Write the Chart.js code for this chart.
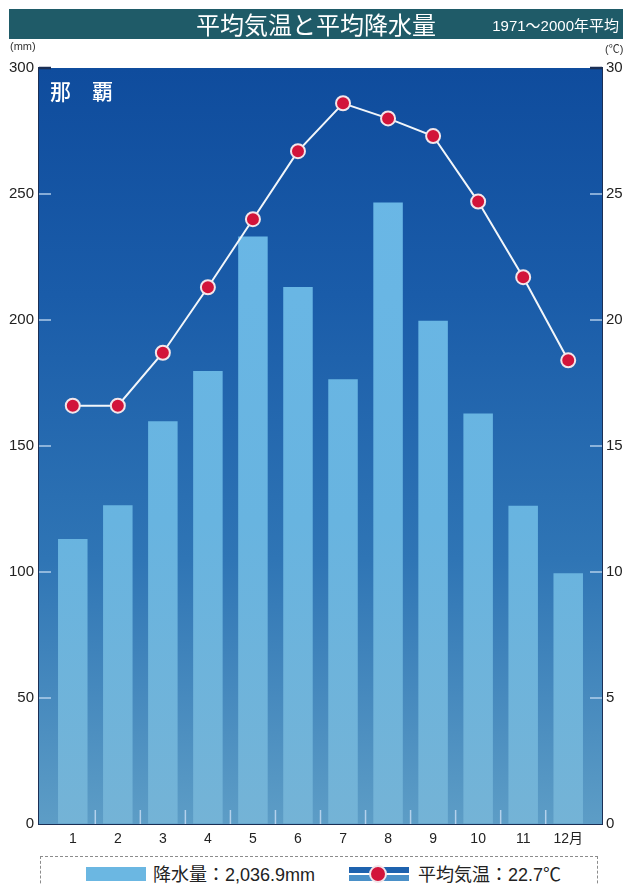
<!DOCTYPE html>
<html lang="ja">
<head>
<meta charset="utf-8">
<title>平均気温と平均降水量</title>
<script src="https://cdn.jsdelivr.net/npm/chart.js@4"></script>
<style>
  html, body { margin: 0; padding: 0; background: #fff; width: 626px; height: 885px; overflow: hidden;
    font-family: "Liberation Sans", "Noto Sans CJK JP", sans-serif; color: #222; }
  #titlebar { position: absolute; left: 9px; top: 9px; width: 614px; height: 30px; background: #1f5b68; color: #fff; }
  #titlebar .main { position: absolute; left: 0; top: 0; width: 100%; text-align: center; line-height: 30px;
    font-family: "Noto Sans CJK JP", sans-serif; font-size: 24px; }
  #titlebar .sub { position: absolute; right: 4px; top: 1px; line-height: 32px; font-size: 15px;
    font-family: "Liberation Sans", "Noto Sans CJK JP", sans-serif; }
  .unit { position: absolute; top: 40px; font-size: 11px; color: #333; }
  #chart { position: absolute; left: 0; top: 0; }
  #legend { position: absolute; left: 40px; top: 856px; width: 556px; height: 40px; border: 1px dashed #8c8c8c; }
  .lg-text { position: absolute; top: 7px; font-size: 18px; line-height: 22px; color: #222;
    font-family: "Liberation Sans", "Noto Sans CJK JP", sans-serif; }
  #sw-rain { position: absolute; left: 45px; top: 10px; width: 60px; height: 14px; background: #6bb7e2; }
  #sw-temp { position: absolute; left: 308px; top: 10px; width: 60px; height: 14px;
    background: linear-gradient(#1e62ae 0, #1e62ae 6px, #ffffff 6px, #ffffff 8px, #4a90c8 8px); }
  #sw-dot { position: absolute; left: 20px; top: -2px; width: 14px; height: 14px; border-radius: 50%;
    background: #d2143a; border: 2px solid #f3e6ea; }
</style>
</head>
<body>
<canvas id="chart" width="626" height="850"></canvas>
<div id="titlebar"><div class="main">平均気温と平均降水量</div><div class="sub">1971～2000年平均</div></div>
<div class="unit" style="left:10px">(mm)</div>
<div class="unit" style="left:605px">(℃)</div>
<div id="legend">
  <div id="sw-rain"></div>
  <div class="lg-text" style="left:112px">降水量：2,036.9mm</div>
  <div id="sw-temp"><div id="sw-dot"></div></div>
  <div class="lg-text" style="left:377px">平均気温：22.7℃</div>
</div>
<script>
// 那覇の月別平年値（1971～2000年）
const months = ['1', '2', '3', '4', '5', '6', '7', '8', '9', '10', '11', '12月'];
const precipitation = [113.1, 126.5, 159.8, 179.8, 233.1, 213.1, 176.5, 246.6, 199.7, 162.9, 126.3, 99.5]; // mm
const temperature = [16.6, 16.6, 18.7, 21.3, 24.0, 26.7, 28.6, 28.0, 27.3, 24.7, 21.7, 18.4]; // ℃
const stationName = '那　覇';

const NAVY = '#1b2f55';
const TICK = 'rgba(190,215,240,0.9)';

// plot background, station name and inner tick marks
const plotDecor = {
  id: 'plotDecor',
  beforeDatasetsDraw(chart) {
    const { ctx, chartArea: a, scales } = chart;
    ctx.save();
    const g = ctx.createLinearGradient(0, a.top, 0, a.bottom);
    g.addColorStop(0, '#0f4c9d');
    g.addColorStop(0.3, '#1a5ca9');
    g.addColorStop(0.65, '#2f75b5');
    g.addColorStop(1, '#5d9dc6');
    ctx.fillStyle = g;
    ctx.fillRect(a.left, a.top, a.right - a.left, a.bottom - a.top);

    // station name
    ctx.fillStyle = '#ffffff';
    ctx.font = '500 21px "Noto Sans CJK JP", sans-serif';
    ctx.textBaseline = 'middle';
    ctx.textAlign = 'left';
    ctx.fillText(stationName, a.left + 11, a.top + 23);

    // left axis ticks
    scales.y.ticks.forEach(t => {
      if (t.value === 0) return;
      const y = scales.y.getPixelForValue(t.value);
      const top = t.value === scales.y.max;
      ctx.strokeStyle = top ? NAVY : TICK;
      ctx.lineWidth = top ? 2.5 : 1.5;
      ctx.beginPath(); ctx.moveTo(a.left, y); ctx.lineTo(a.left + 12, y); ctx.stroke();
    });
    // right axis ticks
    scales.y1.ticks.forEach(t => {
      if (t.value === 0) return;
      const y = scales.y1.getPixelForValue(t.value);
      const top = t.value === scales.y1.max;
      ctx.strokeStyle = top ? NAVY : TICK;
      ctx.lineWidth = top ? 2.5 : 1.5;
      ctx.beginPath(); ctx.moveTo(a.right - 12, y); ctx.lineTo(a.right, y); ctx.stroke();
    });
    // month separators along the bottom
    ctx.strokeStyle = TICK;
    ctx.lineWidth = 1.5;
    for (let i = 1; i < months.length; i++) {
      const x = scales.x.getPixelForValue(i + 0.5);
      ctx.beginPath(); ctx.moveTo(x, a.bottom); ctx.lineTo(x, a.bottom - 14); ctx.stroke();
    }
    ctx.restore();
  }
};

const ctx = document.getElementById('chart').getContext('2d');
new Chart(ctx, {
  type: 'bar',
  data: {
    datasets: [
      {
        type: 'line',
        label: '平均気温',
        data: temperature.map((v, i) => ({ x: i + 1, y: v })),
        yAxisID: 'y1',
        order: 0,
        borderColor: '#f2f6fa',
        borderWidth: 2,
        tension: 0,
        pointRadius: 7,
        pointBackgroundColor: '#d2143a',
        pointBorderColor: '#f3e6ea',
        pointBorderWidth: 2
      },
      {
        type: 'bar',
        label: '降水量',
        data: precipitation.map((v, i) => ({ x: i + 1, y: v })),
        yAxisID: 'y',
        order: 1,
        categoryPercentage: 1,
        barPercentage: 0.655,
        backgroundColor(c) {
          const a = c.chart.chartArea;
          if (!a) return '#6bb7e2';
          const g = c.chart.ctx.createLinearGradient(0, a.top, 0, a.bottom);
          g.addColorStop(0, '#6ab8e8');
          g.addColorStop(0.6, '#68b4e0');
          g.addColorStop(1, '#74b3d6');
          return g;
        }
      }
    ]
  },
  options: {
    responsive: false,
    devicePixelRatio: 1,
    animation: false,
    layout: { padding: { top: 68, left: 0, right: 0, bottom: 0 } },
    plugins: { legend: { display: false }, tooltip: { enabled: false } },
    scales: {
      x: {
        type: 'linear',
        position: 'bottom',
        offset: false,
        min: 0.25,
        max: 12.75,
        grid: { display: false, drawTicks: false, offset: false },
        border: { display: true, color: NAVY, width: 2 },
        afterBuildTicks(s) { s.ticks = months.map((_, i) => ({ value: i + 1 })); },
        afterFit(s) { s.height = 26; },
        ticks: {
          padding: 7,
          color: '#222',
          font: { family: '"Liberation Sans", "Noto Sans CJK JP", sans-serif', size: 14 },
          callback: v => months[Math.round(v) - 1]
        }
      },
      y: {
        position: 'left',
        min: 0,
        max: 300,
        grid: { drawOnChartArea: false, drawTicks: false },
        border: { display: true, color: NAVY, width: 2 },
        afterFit(s) { s.width = 39; },
        ticks: {
          stepSize: 50,
          padding: 5,
          color: '#222',
          font: { family: '"Liberation Sans", sans-serif', size: 15 }
        }
      },
      y1: {
        position: 'right',
        min: 0,
        max: 30,
        grid: { drawOnChartArea: false, drawTicks: false },
        border: { display: true, color: NAVY, width: 2 },
        afterFit(s) { s.width = 24; },
        ticks: {
          stepSize: 5,
          padding: 4,
          color: '#222',
          font: { family: '"Liberation Sans", sans-serif', size: 15 }
        }
      }
    }
  },
  plugins: [plotDecor]
});
</script>
</body>
</html>
